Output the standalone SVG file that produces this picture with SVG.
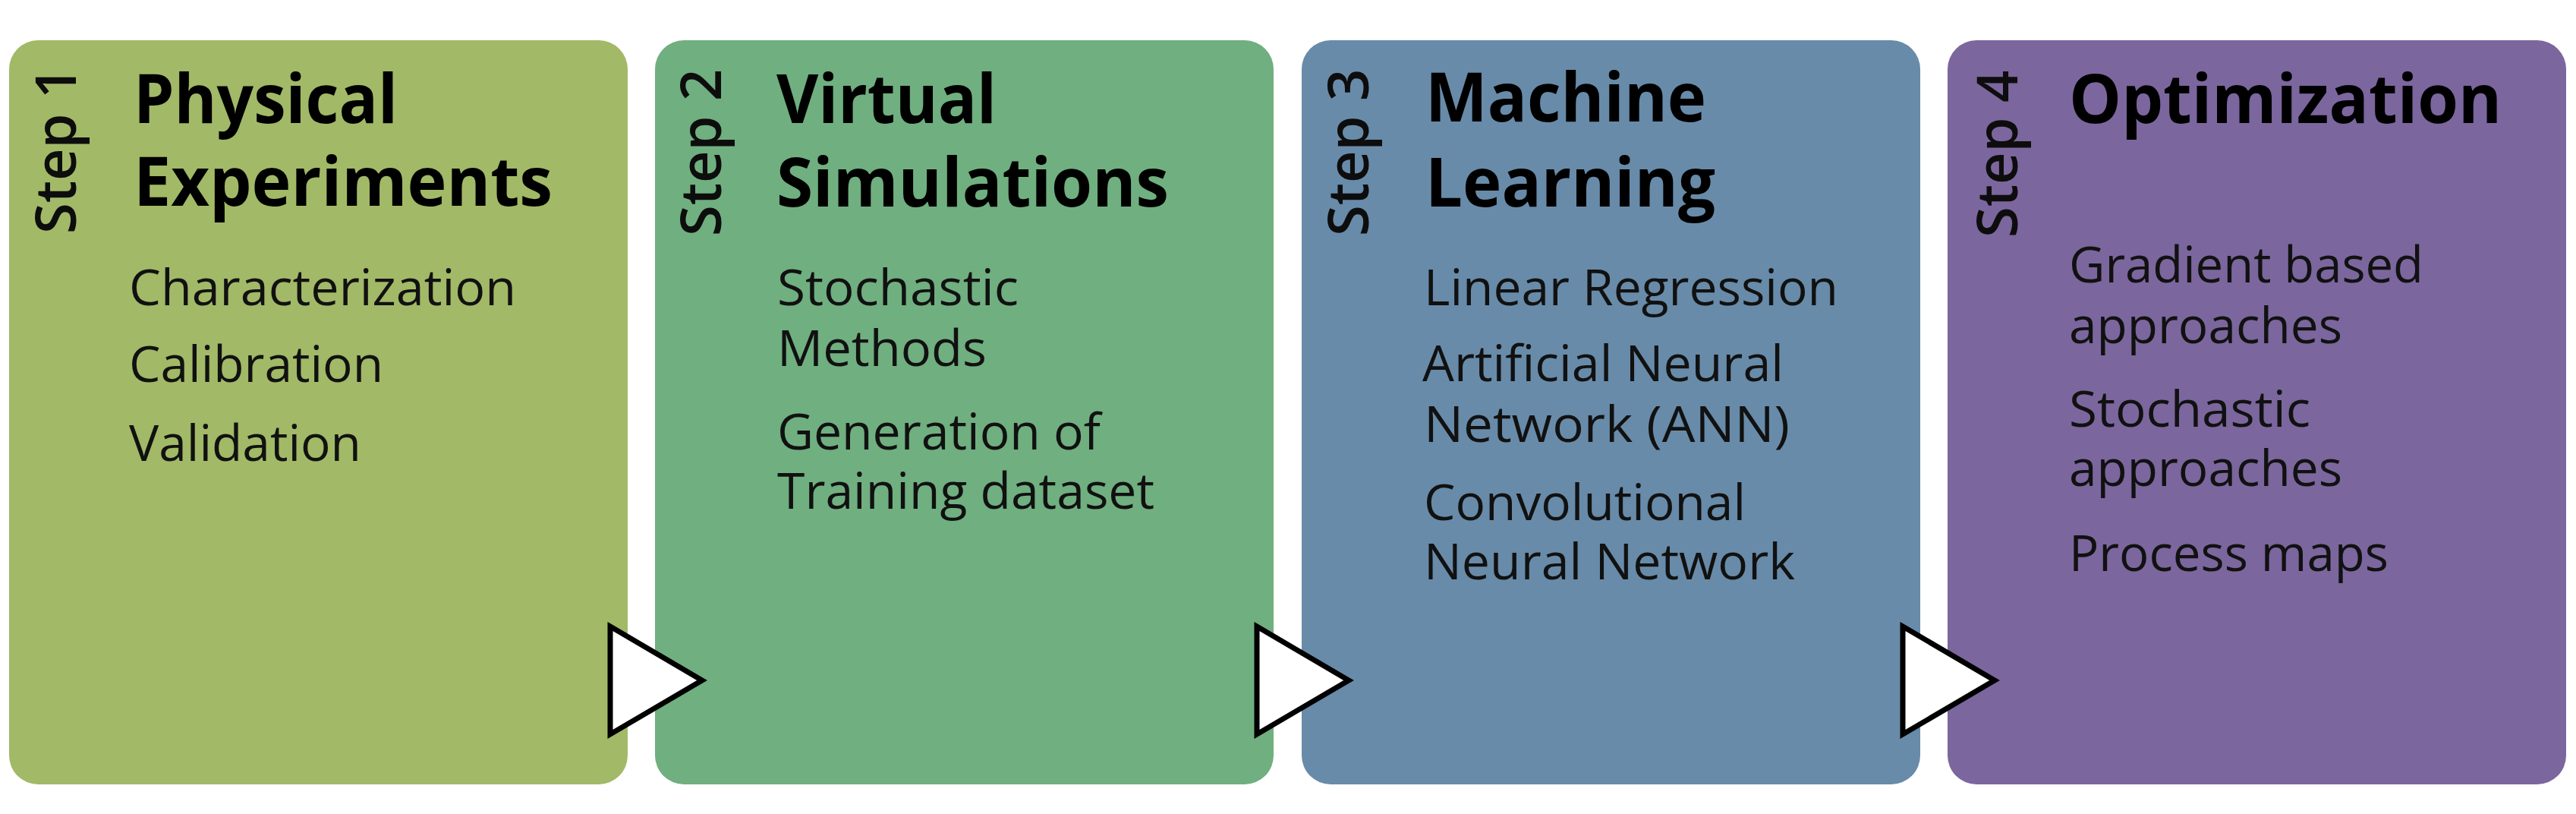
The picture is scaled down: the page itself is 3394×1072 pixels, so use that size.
<svg xmlns="http://www.w3.org/2000/svg" width="3394" height="1072" viewBox="0 0 3394 1072">
<style>
.box{stroke:none}
.step{font-family:"Open Sans","Noto Sans","DejaVu Sans",sans-serif;font-weight:600;font-size:74px;fill:#0d0d0d}
.head{font-family:"Open Sans","Noto Sans","DejaVu Sans",sans-serif;font-weight:700;font-size:90px;fill:#000}
.body{font-family:"Open Sans","Noto Sans","DejaVu Sans",sans-serif;font-weight:400;font-size:66px;fill:#111}
.arrow{fill:#fff;stroke:#000;stroke-width:7;stroke-linejoin:miter}
</style>
<rect width="3394" height="1072" fill="#fff"/>
<g id="step1">
<rect class="box" x="12" y="53" width="815" height="980" rx="38" fill="#a2b967"/>
<text class="step" transform="translate(100,308) rotate(-90)">Step 1</text>
<text class="head" x="176" y="162" textLength="348" lengthAdjust="spacingAndGlyphs">Physical</text>
<text class="head" x="176" y="271" textLength="552" lengthAdjust="spacingAndGlyphs">Experiments</text>
<text class="body" x="170" y="402" textLength="510" lengthAdjust="spacingAndGlyphs">Characterization</text>
<text class="body" x="170" y="503" textLength="335" lengthAdjust="spacingAndGlyphs">Calibration</text>
<text class="body" x="170" y="607" textLength="306" lengthAdjust="spacingAndGlyphs">Validation</text>
</g>
<g id="step2">
<rect class="box" x="863" y="53" width="815" height="980" rx="38" fill="#70af80"/>
<text class="step" transform="translate(950,311) rotate(-90)">Step 2</text>
<text class="head" x="1023" y="162" textLength="290" lengthAdjust="spacingAndGlyphs">Virtual</text>
<text class="head" x="1023" y="272" textLength="517" lengthAdjust="spacingAndGlyphs">Simulations</text>
<text class="body" x="1024" y="402" textLength="318" lengthAdjust="spacingAndGlyphs">Stochastic</text>
<text class="body" x="1024" y="482" textLength="276" lengthAdjust="spacingAndGlyphs">Methods</text>
<text class="body" x="1024" y="592" textLength="426" lengthAdjust="spacingAndGlyphs">Generation of</text>
<text class="body" x="1024" y="670" textLength="497" lengthAdjust="spacingAndGlyphs">Training dataset</text>
</g>
<g id="step3">
<rect class="box" x="1715" y="53" width="815" height="980" rx="38" fill="#688ba9"/>
<text class="step" transform="translate(1803,311) rotate(-90)">Step 3</text>
<text class="head" x="1878" y="160" textLength="370" lengthAdjust="spacingAndGlyphs">Machine</text>
<text class="head" x="1878" y="272" textLength="382" lengthAdjust="spacingAndGlyphs">Learning</text>
<text class="body" x="1876" y="402" textLength="546" lengthAdjust="spacingAndGlyphs">Linear Regression</text>
<text class="body" x="1874" y="502" textLength="476" lengthAdjust="spacingAndGlyphs">Artificial Neural</text>
<text class="body" x="1876" y="582" textLength="482" lengthAdjust="spacingAndGlyphs">Network (ANN)</text>
<text class="body" x="1876" y="685" textLength="424" lengthAdjust="spacingAndGlyphs">Convolutional</text>
<text class="body" x="1876" y="763" textLength="489" lengthAdjust="spacingAndGlyphs">Neural Network</text>
</g>
<g id="step4">
<rect class="box" x="2566" y="53" width="815" height="980" rx="38" fill="#7b669e"/>
<text class="step" transform="translate(2658,313) rotate(-90)">Step 4</text>
<text class="head" x="2726" y="162" textLength="570" lengthAdjust="spacingAndGlyphs">Optimization</text>
<text class="body" x="2726" y="372" textLength="467" lengthAdjust="spacingAndGlyphs">Gradient based</text>
<text class="body" x="2726" y="452" textLength="360" lengthAdjust="spacingAndGlyphs">approaches</text>
<text class="body" x="2726" y="562" textLength="318" lengthAdjust="spacingAndGlyphs">Stochastic</text>
<text class="body" x="2726" y="640" textLength="360" lengthAdjust="spacingAndGlyphs">approaches</text>
<text class="body" x="2726" y="752" textLength="421" lengthAdjust="spacingAndGlyphs">Process maps</text>
</g>
<g id="connectors">
<polygon class="arrow" points="804,825 925,896 804,967"/>
<polygon class="arrow" points="1656,825 1777,896 1656,967"/>
<polygon class="arrow" points="2507,825 2628,896 2507,967"/>
</g>
</svg>
